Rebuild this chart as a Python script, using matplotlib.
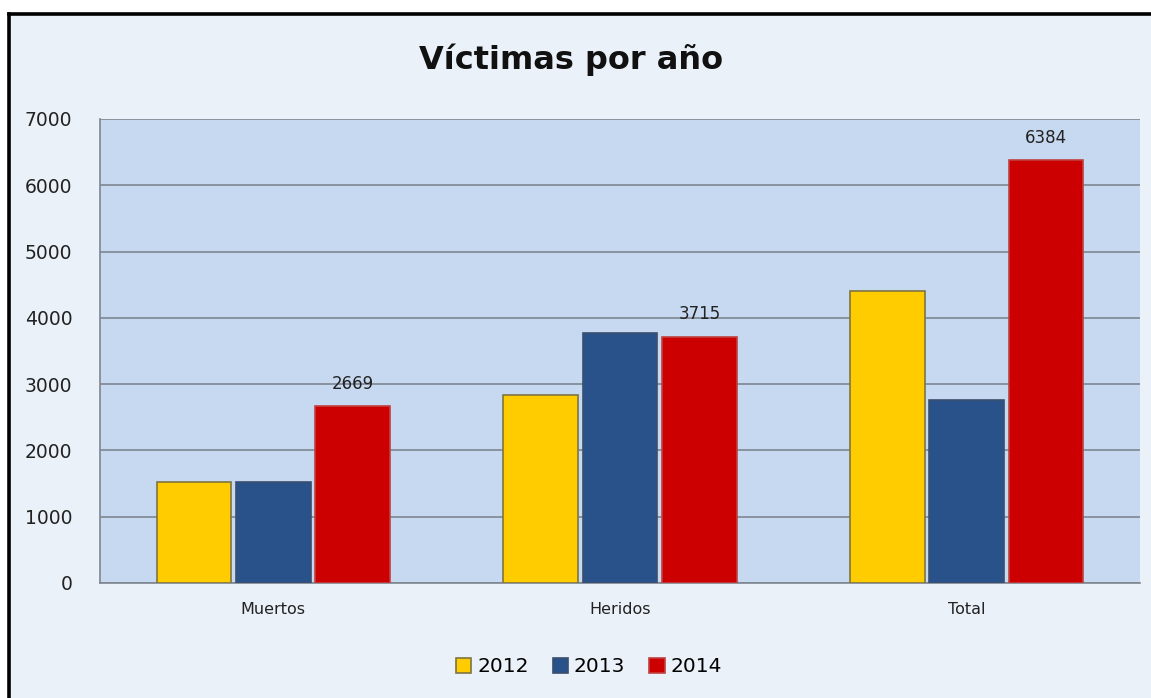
import numpy as np
import matplotlib.pyplot as plt
from matplotlib.patches import Rectangle
from matplotlib.lines import Line2D

categories = ["Muertos", "Heridos", "Total"]
years = ["2012", "2013", "2014"]
v2012 = [1525, 2840, 4400]
v2013 = [1520, 3775, 2760]
v2014 = [2669, 3715, 6384]
colors = ["#FFCC00", "#285289", "#CC0000"]
edges = ["#7F7540", "#3A4F6E", "#C04040"]

W, H = 1151, 698
fig = plt.figure(figsize=(W / 100, H / 100), dpi=100, facecolor="white")

# light background panel with black top/left frame
bg = "#EBF1F9"
fig.patches.append(Rectangle((8.5 / W, 0), 1, 1 - 13.5 / H, transform=fig.transFigure,
                             facecolor=bg, edgecolor="none", zorder=-2))
fig.lines.append(Line2D([8.5 / W, 8.5 / W], [0, 1 - 13.5 / H], transform=fig.transFigure,
                        color="black", linewidth=2.6, zorder=-1))
fig.lines.append(Line2D([8.5 / W, 1], [1 - 13.5 / H, 1 - 13.5 / H], transform=fig.transFigure,
                        color="black", linewidth=2.6, zorder=-1))

ax = fig.add_axes([100 / W, 1 - 583 / H, 1040 / W, 464 / H])
ax.set_zorder(2)
ax.set_facecolor("#C6D9F0")

x = np.arange(len(categories))
w = 0.215
step = 0.229
series = [v2012, v2013, v2014]
for i, vals in enumerate(series):
    bars = ax.bar(x + (i - 1) * step, vals, w, color=colors[i],
                  edgecolor=edges[i], linewidth=1.2, label=years[i], zorder=3)
    if i == 2:
        for b, v in zip(bars, vals):
            ax.text(b.get_x() + b.get_width() / 2, v + 200, str(v),
                    ha="center", va="bottom", fontsize=12, color="#222222", zorder=4)

ax.set_xlim(-0.5, 2.5)
ax.set_ylim(0, 7000)
ax.set_yticks(range(0, 7001, 1000))
ax.yaxis.grid(True, color="#7F8690", linewidth=1.2, zorder=1)
ax.set_axisbelow(True)
ax.set_xticks(x)
ax.set_xticklabels(categories, fontsize=11.5)
ax.tick_params(axis="both", length=0, colors="#222222")
ax.tick_params(axis="y", labelsize=13.5, pad=20)
ax.tick_params(axis="x", pad=14)
for s in ["top", "right"]:
    ax.spines[s].set_visible(False)
for s in ["left", "bottom"]:
    ax.spines[s].set_color("#7F8690")
    ax.spines[s].set_linewidth(1.2)

fig.text(571 / W, 1 - 60 / H, "Víctimas por año", ha="center", va="center",
         fontsize=23, fontweight="bold", color="#111111")

leg = fig.legend(loc="center", bbox_to_anchor=(589 / W, 1 - 667 / H), ncol=3,
                 frameon=False, fontsize=14.5, handlelength=0.75, handleheight=0.75,
                 handletextpad=0.3, columnspacing=1.2)
leg.set_zorder(3)

fig.savefig("out.png", dpi=100, facecolor=fig.get_facecolor())
